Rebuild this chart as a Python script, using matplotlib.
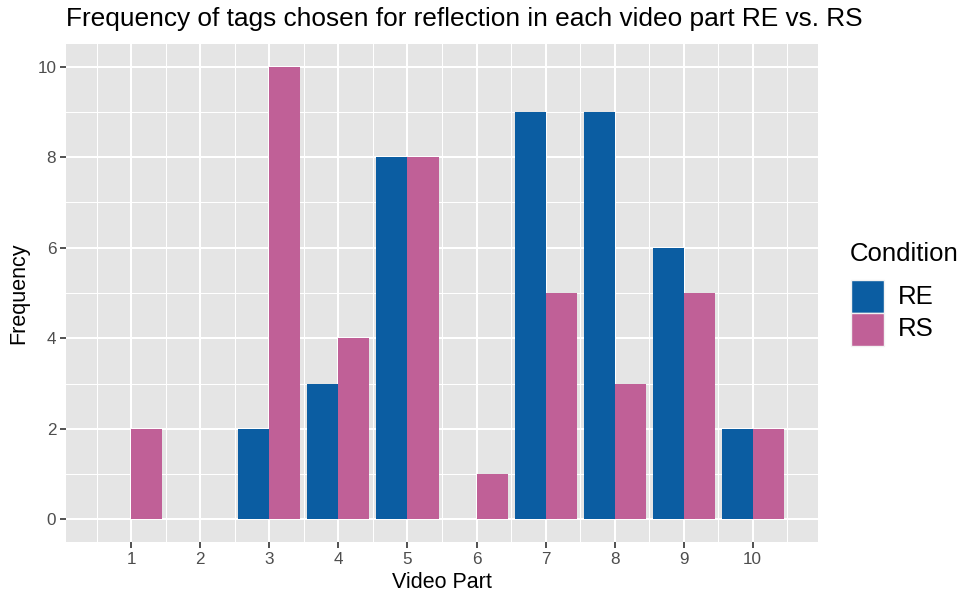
import matplotlib.pyplot as plt
import numpy as np
from matplotlib.patches import Rectangle

# ------------------------------------------------------------
# Data
# ------------------------------------------------------------
parts = [1, 2, 3, 4, 5, 6, 7, 8, 9, 10]
re_freq = [0, 0, 2, 3, 8, 0, 9, 9, 6, 2]
rs_freq = [2, 0, 10, 4, 8, 1, 5, 3, 5, 2]
conditions = ["RE", "RS"]

COL_RE = "#0B5DA2"
COL_RS = "#C06097"
FONT = "Liberation Sans"

plt.rcParams["font.family"] = [FONT, "DejaVu Sans"]

W, H = 964, 596
fig = plt.figure(figsize=(W / 100, H / 100), dpi=100)
ax = fig.add_axes([66 / W, 1 - 542 / H, 752 / W, 498 / H])
ax.set_facecolor("#E5E5E5")

x = np.array(parts, dtype=float)
w = 0.45
ax.bar(x - w / 2, re_freq, width=w, color=COL_RE, edgecolor="none", zorder=3)
ax.bar(x + w / 2, rs_freq, width=w, color=COL_RS, edgecolor="none", zorder=3)

ax.set_xlim(0.055, 10.945)
ax.set_ylim(-0.5, 10.5)
ax.set_xticks(parts)
ax.set_xticks(np.arange(0.5, 11, 1.0), minor=True)
ax.set_yticks([0, 2, 4, 6, 8, 10])
ax.set_yticks([1, 3, 5, 7, 9], minor=True)

ax.grid(True, which="major", color="white", linewidth=1.45, zorder=1)
ax.grid(True, which="minor", color="white", linewidth=0.75, zorder=1)
ax.set_axisbelow(True)
for s in ax.spines.values():
    s.set_visible(False)

ax.tick_params(which="major", length=4, width=1.2, color="#333333",
               labelcolor="#4D4D4D", labelsize=12.3, pad=3)
ax.tick_params(which="minor", length=0)

ax.set_xlabel("Video Part", fontsize=15.5, labelpad=4)
ax.set_ylabel("Frequency", fontsize=15.5, labelpad=6)
fig.text(66 / W, 1 - 19 / H, "Frequency of tags chosen for reflection in each video part RE vs. RS",
         fontsize=18.9, ha="left", va="center")

# legend drawn by hand (ggplot style keys)
fig.text(850 / W, 1 - 254 / H, "Condition", fontsize=18.5, ha="left", va="center")
key_cols = [COL_RE, COL_RS]
for i, (lab, col) in enumerate(zip(conditions, key_cols)):
    top = 280 + i * 33
    fig.patches.append(Rectangle((851 / W, 1 - (top + 33) / H), 33 / W, 33 / H,
                                 transform=fig.transFigure, facecolor=col,
                                 edgecolor="#F2F2F2", linewidth=1))
    fig.text(898 / W, 1 - (top + 16.5) / H, lab, fontsize=18.5, ha="left", va="center")

fig.savefig("out.png", dpi=100)
